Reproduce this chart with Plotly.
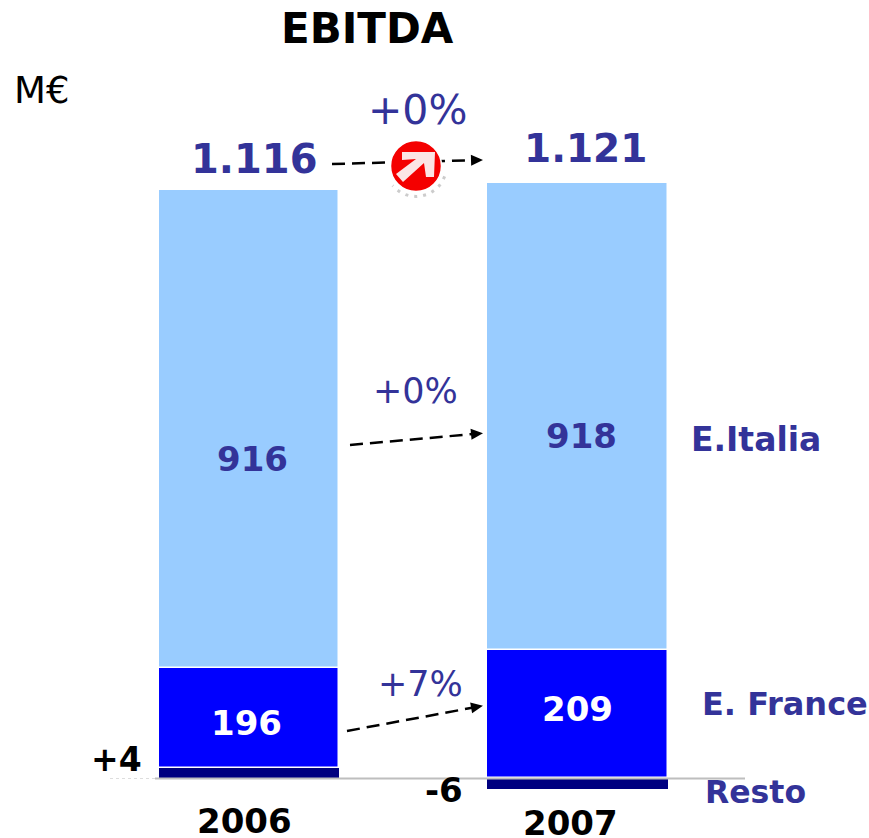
import math
import plotly.graph_objects as go

W, H = 869, 838
years = ["2006", "2007"]
positions = [0, 1]
# Bar heights as drawn in the picture (the source chart is not strictly to scale for small segments)
italia_drawn = [918, 897]
france_drawn = [193, 247]
resto_drawn = [19, -22]
italia_labels = ["916", "918"]
france_labels = ["196", "209"]
resto_labels = ["+4", "-6"]
total_labels = ["1.116", "1.121"]
growth_labels = ["+0%", "+0%", "+7%"]
series_names = ["E.Italia", "E. France", "Resto"]

BLUE = "#333399"
PX_PER_UNIT = 0.52
BASE = 778
X0 = 249
DX = 328.5

def px(x): return x / W
def py(y): return 1 - y / H

fig = go.Figure()
upper_france_base = [max(r, 0) for r in resto_drawn]
upper_italia_base = [b + f for b, f in zip(upper_france_base, france_drawn)]
line = dict(color="white", width=1.5)
fig.add_bar(x=positions, y=resto_drawn, marker=dict(color="#000080", line=dict(width=0)), width=0.548, showlegend=False, hoverinfo="skip")
fig.add_bar(x=positions, y=france_drawn, base=upper_france_base, marker=dict(color="#0000FF", line=line), width=0.548, showlegend=False, hoverinfo="skip")
fig.add_bar(x=positions, y=italia_drawn, base=upper_italia_base, marker=dict(color="#99CCFF", line=line), width=0.548, showlegend=False, hoverinfo="skip")

def txt(x, y, t, size, color, bold=True):
    fig.add_annotation(xref="paper", yref="paper", x=px(x), y=py(y), text=f"<b>{t}</b>" if bold else t,
                       showarrow=False, xanchor="center", yanchor="middle",
                       font=dict(family="DejaVu Sans", size=size, color=color))

def poly(pts, color):
    path = "M " + " L ".join(f"{px(a):.5f} {py(b):.5f}" for a, b in pts) + " Z"
    fig.add_shape(type="path", xref="paper", yref="paper", path=path, fillcolor=color, line=dict(width=0))

def dashed(x1, y1, x2, y2):
    fig.add_shape(type="line", xref="paper", yref="paper", x0=px(x1), y0=py(y1), x1=px(x2), y1=py(y2),
                  line=dict(color="black", width=2.5, dash="13px,7px"))
    ux, uy = x2 - x1, y2 - y1
    n = (ux * ux + uy * uy) ** 0.5
    ux, uy = ux / n, uy / n
    hx, hy = x2 + 4 * ux, y2 + 4 * uy
    bx, by = hx - 12 * ux, hy - 12 * uy
    poly([(hx, hy), (bx - 5.5 * uy, by + 5.5 * ux), (bx + 5.5 * uy, by - 5.5 * ux)], "black")

# baseline
fig.add_shape(type="line", xref="paper", yref="paper", x0=px(155), x1=px(745), y0=py(778.5), y1=py(778.5),
              line=dict(color="#BEBEBE", width=2), layer="above")
fig.add_shape(type="line", xref="paper", yref="paper", x0=px(110), x1=px(155), y0=py(778.5), y1=py(778.5),
              line=dict(color="#DDDDDD", width=1, dash="dot"))

# arrows
dashed(332, 164, 479, 160)
dashed(350, 445, 479, 433.5)
dashed(347, 731, 479, 706.5)

# icon
cx, cy, r = 416, 166, 25.5
fig.add_shape(type="circle", xref="paper", yref="paper", x0=px(cx - r), x1=px(cx + r), y0=py(cy - r), y1=py(cy + r),
              fillcolor="#F40000", line=dict(color="white", width=1.5))
arc = [(cx + (r + 5) * math.cos(math.radians(a)), cy + (r + 5) * math.sin(math.radians(a))) for a in range(20, 150, 10)]
fig.add_shape(type="path", xref="paper", yref="paper", line=dict(color="#CCCCCC", width=3, dash="3px,6px"),
              path="M " + " L ".join(f"{px(a):.5f} {py(b):.5f}" for a, b in arc))
poly([(402, 152), (435, 152), (434, 177), (426, 177), (424, 163), (403, 182), (396, 174), (416, 159), (402, 160)], "#FBE4E4")

# texts
txt(367, 29, "EBITDA", 42, "black")
txt(41, 90, "M€", 37, "black", bold=False)
txt(417, 110, growth_labels[0], 41, BLUE, bold=False)
txt(415, 391, growth_labels[1], 35, BLUE, bold=False)
txt(420, 684, growth_labels[2], 35, BLUE, bold=False)
txt(254, 159, total_labels[0], 40, BLUE)
txt(585, 149, total_labels[1], 39, BLUE)
txt(252, 459, italia_labels[0], 34, BLUE)
txt(581, 436, italia_labels[1], 34, BLUE)
txt(246, 723, france_labels[0], 34, "white")
txt(577, 709, france_labels[1], 34, "white")
txt(117, 759, resto_labels[0], 33, "black")
txt(444, 790, resto_labels[1], 34, "black")
txt(244, 821, years[0], 34, "black")
txt(570, 823, years[1], 34, "black")
txt(756, 439, series_names[0], 33, BLUE)
txt(785, 704, series_names[1], 32, BLUE)
txt(755, 792, series_names[2], 31.5, BLUE)

fig.update_layout(
    width=W, height=H, autosize=False, margin=dict(l=0, r=0, t=0, b=0),
    paper_bgcolor="white", plot_bgcolor="white", barmode="overlay", bargap=0,
    xaxis=dict(visible=False, range=[-X0 / DX, (W - X0) / DX], fixedrange=True),
    yaxis=dict(visible=False, range=[(BASE - H) / PX_PER_UNIT, BASE / PX_PER_UNIT], fixedrange=True),
)
fig.write_html("out.html", config={"displayModeBar": False},
               post_script="document.body.style.margin='0';document.body.style.overflow='hidden';")
